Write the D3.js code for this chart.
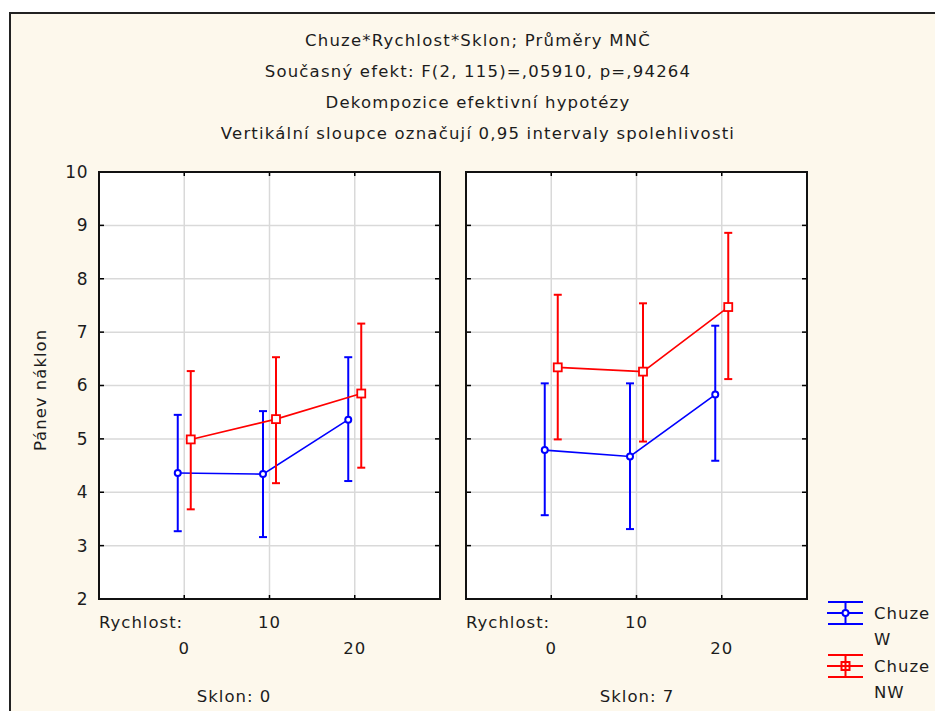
<!DOCTYPE html>
<html>
<head>
<meta charset="utf-8">
<script src="https://cdn.jsdelivr.net/npm/d3@7"></script>
<style>
  body { margin: 0; background: #fff; }
  svg text { font-family: "DejaVu Sans", Verdana, sans-serif; fill: #1c1c1c; letter-spacing: 1px; }
  .grid line { stroke: #d9d9d9; stroke-width: 1.5; }
</style>
</head>
<body>
<script>
// factors
var speeds = [0, 10, 20];
var slopes = [0, 7];
var seriesNames = ["W", "NW"];
var yTicks = [2, 3, 4, 5, 6, 7, 8, 9, 10];

var titleLines = [
    "Chuze*Rychlost*Sklon; Průměry MNČ",
    "Současný efekt: F(2, 115)=,05910, p=,94264",
    "Dekompozice efektivní hypotézy",
    "Vertikální sloupce označují 0,95 intervaly spolehlivosti"
];

// means and 0.95 CI, slope 0
var meanW0 = [4.36, 4.34, 5.36];
var lowW0 = [3.27, 3.16, 4.21];
var highW0 = [5.45, 5.52, 6.53];
var meanNW0 = [4.99, 5.37, 5.85];
var lowNW0 = [3.68, 4.17, 4.46];
var highNW0 = [6.27, 6.53, 7.16];

// slope 7
var meanW7 = [4.79, 4.67, 5.83];
var lowW7 = [3.57, 3.31, 4.59];
var highW7 = [6.04, 6.04, 7.12];
var meanNW7 = [6.34, 6.26, 7.47];
var lowNW7 = [4.99, 4.95, 6.12];
var highNW7 = [7.70, 7.54, 8.86];

var panels = [
    {slope: slopes[0], series: [
        {name: seriesNames[0], mean: meanW0, low: lowW0, high: highW0},
        {name: seriesNames[1], mean: meanNW0, low: lowNW0, high: highNW0}]},
    {slope: slopes[1], series: [
        {name: seriesNames[0], mean: meanW7, low: lowW7, high: highW7},
        {name: seriesNames[1], mean: meanNW7, low: lowNW7, high: highNW7}]}
];

var colors = {W: "#0000ff", NW: "#ff0000"};
var dodge = {W: -6.5, NW: 6.5};

var width = 935, height = 711;
var svg = d3.select("body").append("svg")
    .attr("width", width)
    .attr("height", height);

// outer cream frame
svg.append("rect")
    .attr("x", 10).attr("y", 13)
    .attr("width", width).attr("height", height)
    .attr("fill", "#fdf8ec")
    .attr("stroke", "#222").attr("stroke-width", 2);

svg.selectAll(".title")
    .data(titleLines)
    .enter().append("text")
    .attr("class", "title")
    .attr("x", 478)
    .attr("y", function(d, i) { return 46 + i * 31; })
    .attr("text-anchor", "middle")
    .style("font-size", "16.5px")
    .style("letter-spacing", "1.2px")
    .text(function(d) { return d; });

var panelTop = 172, panelBottom = 599;
var panelLeft = [99, 466], panelW = 341;
var labelCenter = [234, 637];

var y = d3.scaleLinear().domain([2, 10]).range([panelBottom, panelTop]);

// y axis labels (left panel only)
svg.append("g")
    .attr("transform", "translate(" + panelLeft[0] + ",0)")
    .call(d3.axisLeft(y).tickValues(yTicks).tickSize(0).tickPadding(11).tickFormat(d3.format("d")))
    .call(function(g) { g.select(".domain").remove(); })
    .selectAll("text")
    .style("font-size", "17px")
    .style("letter-spacing", "0.5px");

svg.append("text")
    .attr("transform", "translate(46,390) rotate(-90)")
    .attr("text-anchor", "middle")
    .style("font-size", "16.5px")
    .text("Pánev náklon");

panels.forEach(function(p, pi) {
    var x = d3.scalePoint().domain(speeds).range([0, panelW]).padding(1);
    var g = svg.append("g")
        .attr("transform", "translate(" + panelLeft[pi] + "," + 0 + ")");

    g.append("rect")
        .attr("x", 0).attr("y", panelTop)
        .attr("width", panelW).attr("height", panelBottom - panelTop)
        .attr("fill", "#fff");

    // grid
    var grid = g.append("g").attr("class", "grid");
    grid.selectAll(".h").data(yTicks.slice(1, -1)).enter().append("line")
        .attr("x1", 0).attr("x2", panelW)
        .attr("y1", function(d) { return y(d); })
        .attr("y2", function(d) { return y(d); });
    grid.selectAll(".v").data(speeds).enter().append("line")
        .attr("x1", function(d) { return x(d); })
        .attr("x2", function(d) { return x(d); })
        .attr("y1", panelTop).attr("y2", panelBottom);

    // inner ticks all around
    var tk = g.append("g").attr("stroke", "#000").attr("stroke-width", 1.5);
    yTicks.slice(1, -1).forEach(function(v) {
        tk.append("line").attr("x1", 0).attr("x2", 5).attr("y1", y(v)).attr("y2", y(v));
        tk.append("line").attr("x1", panelW - 5).attr("x2", panelW).attr("y1", y(v)).attr("y2", y(v));
    });
    speeds.forEach(function(s) {
        tk.append("line").attr("x1", x(s)).attr("x2", x(s)).attr("y1", panelTop).attr("y2", panelTop + 4);
        tk.append("line").attr("x1", x(s)).attr("x2", x(s)).attr("y1", panelBottom - 4).attr("y2", panelBottom);
    });

    g.append("rect")
        .attr("x", 0).attr("y", panelTop)
        .attr("width", panelW).attr("height", panelBottom - panelTop)
        .attr("fill", "none").attr("stroke", "#111").attr("stroke-width", 2);

    // series
    p.series.forEach(function(s) {
        var c = colors[s.name], off = dodge[s.name];
        var sg = g.append("g");
        var line = d3.line()
            .x(function(d, i) { return x(speeds[i]) + off; })
            .y(function(d) { return y(d); });
        sg.append("path")
            .attr("d", line(s.mean))
            .attr("fill", "none").attr("stroke", c).attr("stroke-width", 1.6);

        speeds.forEach(function(sp, i) {
            var cx = x(sp) + off;
            sg.append("line").attr("x1", cx).attr("x2", cx)
                .attr("y1", y(s.low[i])).attr("y2", y(s.high[i]))
                .attr("stroke", c).attr("stroke-width", 2);
            [s.low[i], s.high[i]].forEach(function(v) {
                sg.append("line").attr("x1", cx - 4).attr("x2", cx + 4)
                    .attr("y1", y(v)).attr("y2", y(v))
                    .attr("stroke", c).attr("stroke-width", 2);
            });
            if (s.name === "W") {
                sg.append("circle").attr("cx", cx).attr("cy", y(s.mean[i])).attr("r", 3)
                    .attr("fill", "#fff").attr("stroke", c).attr("stroke-width", 2);
            } else {
                sg.append("rect").attr("x", cx - 4).attr("y", y(s.mean[i]) - 4)
                    .attr("width", 8).attr("height", 8)
                    .attr("fill", "#fff").attr("stroke", c).attr("stroke-width", 1.8);
            }
        });
    });

    // x labels
    g.append("text")
        .attr("x", 0).attr("y", 628)
        .style("font-size", "16.5px")
        .text("Rychlost:");
    g.selectAll(".xl").data(speeds).enter().append("text")
        .attr("x", function(d) { return x(d); })
        .attr("y", function(d, i) { return i % 2 ? 628 : 654; })
        .attr("text-anchor", "middle")
        .style("font-size", "16.5px")
        .text(function(d) { return d; });

    svg.append("text")
        .attr("x", labelCenter[pi]).attr("y", 702)
        .attr("text-anchor", "middle")
        .style("font-size", "16.5px")
        .text("Sklon: " + p.slope);
});

// legend
var legend = svg.append("g").attr("transform", "translate(827,0)");
var legY = [613, 666];
seriesNames.forEach(function(n, i) {
    var c = colors[n], cy = legY[i];
    var lg = legend.append("g").attr("stroke", c).attr("stroke-width", 2);
    lg.append("line").attr("x1", 1).attr("x2", 36).attr("y1", cy - 11).attr("y2", cy - 11);
    lg.append("line").attr("x1", 0).attr("x2", 36).attr("y1", cy).attr("y2", cy);
    lg.append("line").attr("x1", 1).attr("x2", 36).attr("y1", cy + 11).attr("y2", cy + 11);
    lg.append("line").attr("x1", 18.5).attr("x2", 18.5).attr("y1", cy - 11).attr("y2", cy + 11);
    if (n === "W") {
        lg.append("circle").attr("cx", 18.5).attr("cy", cy).attr("r", 3).attr("fill", "#fff");
    } else {
        lg.append("rect").attr("x", 14.5).attr("y", cy - 4).attr("width", 8).attr("height", 8).attr("fill", "none");
    }
    legend.append("text").attr("x", 47).attr("y", cy + 6)
        .style("font-size", "16.5px").text("Chuze");
    legend.append("text").attr("x", 47).attr("y", cy + 32)
        .style("font-size", "16.5px").text(n);
});
</script>
</body>
</html>
